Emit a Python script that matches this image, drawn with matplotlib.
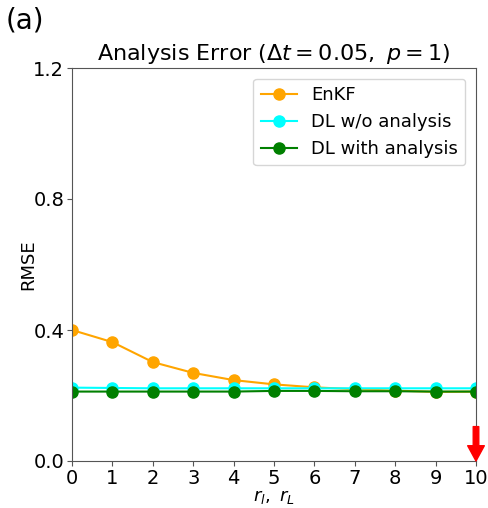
import matplotlib
matplotlib.use("Agg")
import matplotlib.pyplot as plt
import numpy as np

r_values = np.arange(0, 11)
enkf = [0.400, 0.363, 0.302, 0.269, 0.247, 0.234, 0.225, 0.219, 0.215, 0.211, 0.212]
dl_wo_analysis = [0.224, 0.223, 0.222, 0.222, 0.222, 0.222, 0.222, 0.222, 0.222, 0.222, 0.222]
dl_with_analysis = [0.212, 0.212, 0.212, 0.212, 0.212, 0.214, 0.214, 0.213, 0.213, 0.212, 0.212]
yticks = [0.0, 0.4, 0.8, 1.2]
arrow_x = 10
arrow_top = 0.105

fig = plt.figure(figsize=(4.88, 5.08), dpi=100)
ax = fig.add_axes([72 / 488, 1 - 461 / 508, (476 - 72) / 488, (461 - 68) / 508])

ax.plot(r_values, enkf, "-o", color="orange", label="EnKF", markersize=8, lw=1.5)
ax.plot(r_values, dl_wo_analysis, "-o", color="cyan", label="DL w/o analysis", markersize=8, lw=1.5)
ax.plot(r_values, dl_with_analysis, "-o", color="green", label="DL with analysis", markersize=8, lw=1.5)

ax.annotate("", xy=(arrow_x, 0.0), xytext=(arrow_x, arrow_top),
            arrowprops=dict(facecolor="red", edgecolor="red", width=4, headwidth=12, headlength=11),
            annotation_clip=False)

ax.set_xlim(0, 10)
ax.set_ylim(0, 1.2)
ax.set_xticks(r_values)
ax.set_yticks(yticks)
ax.set_yticklabels([f"{v:.1f}" for v in yticks])
ax.tick_params(labelsize=14, color="#555555", pad=2)
for sp in ax.spines.values():
    sp.set_color("#555555")

ax.set_ylabel("RMSE", fontsize=13, labelpad=-3)
ax.set_xlabel(r"$r_l,\ r_L$", fontsize=13, labelpad=0)
ax.set_title(r"Analysis Error ($\Delta t=0.05,\ p=1$)", fontsize=16)
ax.legend(loc="upper right", fontsize=13, handlelength=2, borderaxespad=0.6)

fig.text(6 / 488, 1 - 20 / 508, "(a)", fontsize=20, va="center", ha="left")

fig.savefig("out.png", dpi=100)
